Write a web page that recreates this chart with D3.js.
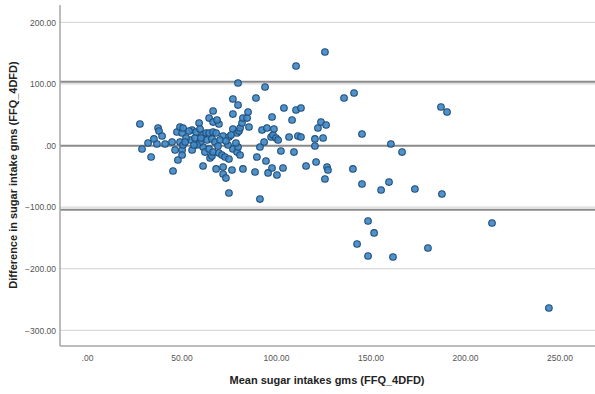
<!DOCTYPE html>
<html>
<head>
<meta charset="utf-8">
<script src="https://cdn.jsdelivr.net/npm/d3@7"></script>
<style>
  html, body { margin: 0; padding: 0; background: #fff; }
  svg { display: block; }
</style>
</head>
<body>
<svg id="chart" width="595" height="394"></svg>
<script>
// Mean of the two methods (x) and their difference (y)
const meanVals = [
  28.0, 29.1, 32.3, 33.9, 35.4, 37.0, 37.6, 38.1, 39.7,
  45.0, 45.5, 46.6, 47.6, 48.1, 49.2, 49.2, 50.3, 50.3, 50.3, 50.8, 50.8,
  55.0, 55.6, 55.6, 57.1, 57.7, 59.3, 59.8, 61.4, 61.4, 61.4, 62.4, 63.0, 63.5,
  64.6, 64.6, 64.6, 65.1, 66.1, 66.1, 66.7, 66.7, 66.7, 66.7, 67.7, 68.3, 68.3,
  69.8, 69.8, 71.4, 72.0, 72.0, 72.0, 73.0, 73.5, 75.1, 75.1, 75.1, 76.7,
  77.2, 77.2, 77.2, 77.2, 79.4, 79.4, 79.9, 79.9, 79.9, 80.4, 81.0, 81.0,
  82.0, 82.5, 82.5, 84.7, 85.2, 85.7,
  52.4, 59.8, 70.4, 58.2, 74.6, 68.8,
  51.9, 54.0, 56.6, 60.3, 69.3, 73.5, 76.2, 78.8, 41.3,
  89.4, 89.9, 91.5, 91.5, 88.9, 92.6, 93.7, 94.2, 94.7, 95.2, 95.8, 97.4, 97.9,
  97.9, 98.4, 98.9, 100.0, 100.5, 101.1, 102.6, 103.7, 104.2, 106.9, 108.5,
  109.5, 110.6, 110.6, 111.6, 113.2, 113.2, 115.9, 120.6, 120.6, 121.2, 122.2,
  123.8, 124.9, 125.9, 125.9, 126.5, 127.0, 127.5,
  136.0, 141.3, 145.5, 140.7, 145.5, 155.6, 159.8, 160.8, 166.7, 173.5, 187.8,
  187.3, 190.5, 148.7, 151.9, 142.9, 148.7, 161.9, 180.4, 214.3, 244.4
];
const diffVals = [
  34.9, -5.7, 4.1, -18.7, 10.6, 2.4, 28.4, 23.5, 15.4,
  5.7, -41.4, -7.3, 21.9, -23.5, 30.0, 5.7, 20.3, -7.3, -15.4, 28.4, 0.8,
  8.9, 25.2, -7.3, 12.2, 21.9, 36.5, 26.8, 17.0, -2.4, -33.3, -10.6, 20.3, 8.9,
  44.6, 20.3, -5.7, -20.3, 10.6, -17.0, 56.0, 38.1, 21.9, -10.6, 5.7, 20.3, -38.1,
  34.9, -12.2, -15.4, 15.4, -34.9, -46.3, -18.7, -52.8, 13.8, -21.9, -77.1, -39.8,
  75.5, 51.1, 26.8, -5.7, 20.3, -10.6, 101.5, 65.7, -2.4, 23.5, 28.4, -15.4,
  36.5, 44.6, -38.1, 44.6, 54.4, 30.0,
  12.2, 5.7, 8.9, 0.8, 0.8, 41.4,
  5.7, 23.5, 0.8, 12.2, -0.8, 7.3, 17.0, 4.1, 2.4,
  77.1, -18.7, -2.4, -86.9, -43.0, 25.2, 5.7, 95.0, -25.2, 28.4, -44.6, 13.8, 46.3,
  -36.5, 17.0, 26.8, 12.2, -47.9, 8.9, -8.9, -36.5, 60.9, 13.8, 41.4,
  -10.6, 129.1, 57.6, 15.4, 60.9, 13.8, -33.3, 10.6, -0.8, -26.8, 28.4,
  38.1, 12.2, 151.8, -54.4, 33.3, -34.9, -39.8,
  77.1, 85.2, 18.7, -38.1, -62.5, -72.2, -59.3, 2.4, -10.6, -70.6, -78.7,
  62.5, 54.4, -122.6, -142.0, -159.9, -179.4, -181.0, -166.4, -125.8, -263.8
];
// Reference lines: limits of agreement and mean difference
const refLines = [103.5, -0.5, -104.5];
const xTicks = [0, 50, 100, 150, 200, 250];
const yTicks = [200, 100, 0, -100, -200, -300];
const xTitle = "Mean sugar intakes gms (FFQ_4DFD)";
const yTitle = "Difference in sugar intake gms (FFQ_4DFD)";

const svg = d3.select("#chart");
const mLeft = 60, mRight = 595, mTop = 5, mBottom = 346;

const x = d3.scaleLinear().domain([-14.3, 268.8]).range([mLeft, mRight]);
const y = d3.scaleLinear().domain([-325.5, 228.1]).range([mBottom, mTop]);

const fmt = v => d3.format(".2f")(v).replace(/^0\./, ".");

// gridlines
svg.append("g").selectAll("line").data(yTicks).join("line")
  .attr("x1", mLeft).attr("x2", mRight)
  .attr("y1", d => y(d)).attr("y2", d => y(d))
  .attr("stroke", "#d9d9d9").attr("stroke-width", 1.2);

// reference lines
svg.append("g").selectAll("line").data(refLines).join("line")
  .attr("x1", mLeft).attr("x2", mRight)
  .attr("y1", d => y(d)).attr("y2", d => y(d))
  .attr("stroke", "#8a8a8a").attr("stroke-width", 2);

// axes
const xAxis = d3.axisBottom(x).tickValues(xTicks).tickFormat(fmt).tickSize(0).tickPadding(9);
const yAxis = d3.axisLeft(y).tickValues(yTicks).tickFormat(fmt).tickSize(0).tickPadding(4);

const gx = svg.append("g").attr("transform", `translate(0,${mBottom})`).call(xAxis);
const gy = svg.append("g").attr("transform", `translate(${mLeft},0)`).call(yAxis);
[gx, gy].forEach(g => {
  g.select(".domain").attr("stroke", "#a6a6a6").attr("stroke-width", 1.5);
  g.selectAll("text").attr("font-family", "Liberation Sans, Arial, sans-serif")
    .attr("font-size", 8.5).attr("fill", "#555");
});
gx.select(".domain").attr("d", `M${mLeft},0H${mRight}`);
gy.select(".domain").attr("d", `M0,${mTop}V${mBottom}`);

// points
svg.append("g").selectAll("circle").data(meanVals.map((m, i) => [m, diffVals[i]])).join("circle")
  .attr("cx", d => x(d[0])).attr("cy", d => y(d[1])).attr("r", 3.3)
  .attr("fill", "#3f86c4").attr("fill-opacity", 0.9)
  .attr("stroke", "#1f4f7a").attr("stroke-width", 1.1);

// titles
svg.append("text").attr("x", 327).attr("y", 384).attr("text-anchor", "middle")
  .attr("font-family", "Liberation Sans, Arial, sans-serif").attr("font-weight", "bold")
  .attr("font-size", 11).attr("fill", "#222").text(xTitle);
svg.append("text").attr("transform", "translate(17,175) rotate(-90)").attr("text-anchor", "middle")
  .attr("font-family", "Liberation Sans, Arial, sans-serif").attr("font-weight", "bold")
  .attr("font-size", 11).attr("fill", "#222").text(yTitle);
</script>
</body>
</html>
